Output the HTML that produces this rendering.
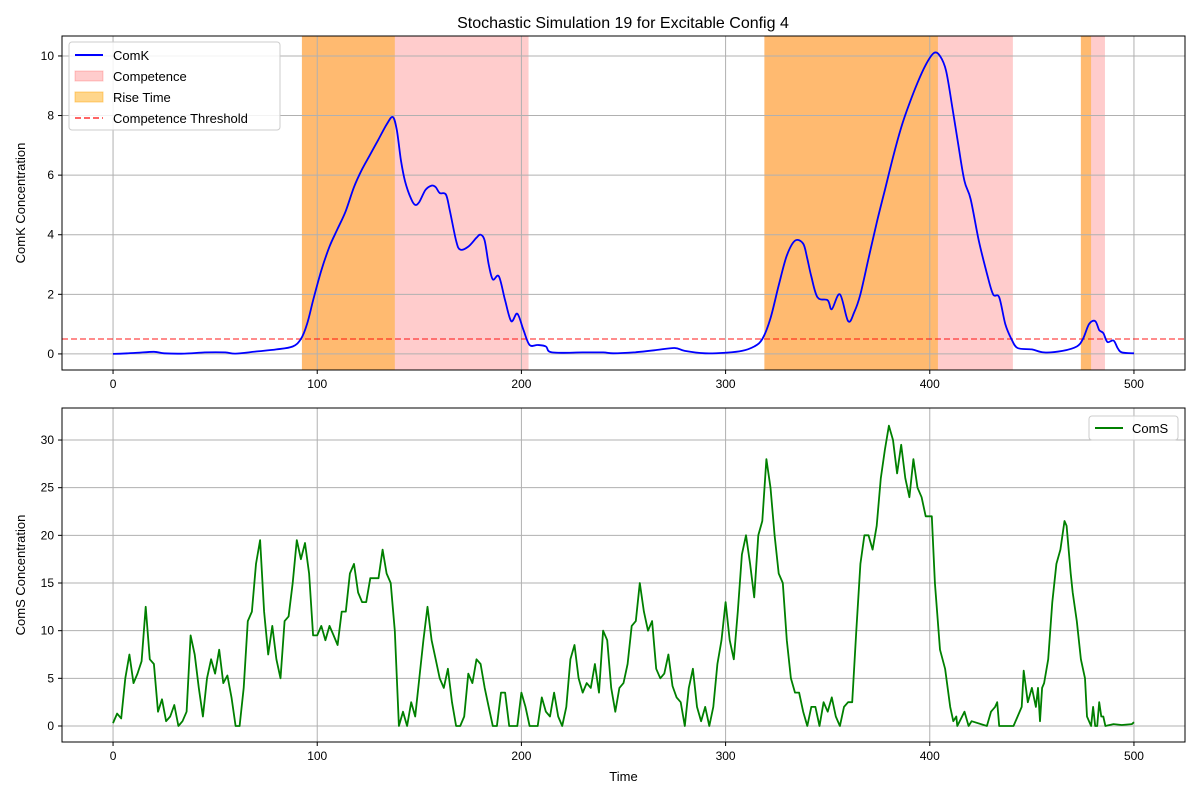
<!DOCTYPE html>
<html><head><meta charset="utf-8"><style>
body{margin:0;background:#fff;}
svg text{font-family:"Liberation Sans","DejaVu Sans",sans-serif;fill:#000;}
</style></head><body>
<svg id="c" width="1200" height="800" xmlns="http://www.w3.org/2000/svg">
<rect width="1200" height="800" fill="#fff"/>
<text x="623" y="28" font-size="16" text-anchor="middle">Stochastic Simulation 19 for Excitable Config 4</text>
</svg>
<script>
const kTimes=[0,10,20,25,35,45,55,60,70,80,88,92,95,98,102,106,110,114,118,122,126,130,134,137,139,141,143,146,148,150,153,156,158,160,163,165,168,170,174,178,180,182,184,186,189,192,195,198,201,204,208,212,215,230,240,245,255,265,275,280,290,300,308,314,318,322,326,330,334,338,340,342,345,350,352,356,360,363,366,370,374,378,382,386,390,394,398,402,405,408,411,414,417,420,424,428,431,434,437,440,443,450,456,465,472,475,478,481,483,485,487,490,492,494,500];
const kValues=[0,0.03,0.07,0.02,0.01,0.05,0.05,0.01,0.08,0.15,0.25,0.5,1,1.8,2.8,3.6,4.2,4.8,5.6,6.2,6.7,7.2,7.7,7.95,7.5,6.5,5.8,5.2,5.0,5.1,5.5,5.65,5.6,5.4,5.35,4.8,3.8,3.5,3.6,3.9,4.0,3.8,3.0,2.5,2.6,1.8,1.1,1.35,0.8,0.3,0.3,0.25,0.05,0.05,0.05,0.02,0.05,0.12,0.2,0.1,0.02,0.04,0.1,0.25,0.5,1.2,2.3,3.3,3.8,3.7,3.2,2.6,1.9,1.8,1.5,2.0,1.1,1.4,2.0,3.2,4.4,5.5,6.6,7.6,8.4,9.1,9.7,10.1,10.0,9.5,8.3,7.0,5.8,5.2,3.8,2.7,2.0,1.9,1.0,0.5,0.2,0.15,0.05,0.1,0.25,0.5,1.0,1.1,0.8,0.7,0.4,0.45,0.2,0.05,0.02];
const sTimes=[0,2,4,6,8,10,12,14,16,18,20,22,24,26,28,30,32,34,36,38,40,42,44,46,48,50,52,54,56,58,60,62,64,66,68,70,72,74,76,78,80,82,84,86,88,90,92,94,96,98,100,102,104,106,108,110,112,114,116,118,120,122,124,126,128,130,132,134,136,138,140,142,144,146,148,150,152,154,156,158,160,162,164,166,168,170,172,174,176,178,180,182,184,186,188,190,192,194,196,198,200,202,204,206,208,210,212,214,216,218,220,222,224,226,228,230,232,234,236,238,240,242,244,246,248,250,252,254,256,258,260,262,264,266,268,270,272,274,276,278,280,282,284,286,288,290,292,294,296,298,300,302,304,306,308,310,312,314,316,318,320,322,324,326,328,330,332,334,336,338,340,342,344,346,348,350,352,354,356,358,360,362,364,366,368,370,372,374,376,378,380,382,384,386,388,390,392,394,396,398,400,401,402.5,405,407.5,410,411.5,413,413.5,417,419,420.5,428,430,432,433,434,441,443,445,446,448,450,452,453,454,455,456,458,460,462,464,466,467,469,470,472,474,476,477,478,479,480,481,482,483,484,485,486,490,494,499,500];
const sValues=[0.3,1.3,0.8,5,7.5,4.5,5.5,6.8,12.5,7,6.5,1.5,2.8,0.5,1,2.2,0,0.5,1.5,9.5,7.5,4,1,5,7,5.5,8,4.5,5.3,3,0,0,4,11,12,17,19.5,12,7.5,10.5,7,5,11,11.5,15,19.5,17.5,19.2,16,9.5,9.5,10.5,9,10.5,9.5,8.5,12,12,16,17,14,13,13,15.5,15.5,15.5,18.5,16,15,10,0,1.5,0,2.5,1,5,9,12.5,9,7,5,4,6,2.5,0,0,1,5.5,4.5,7,6.5,4,2,0,0,3.5,3.5,0,0,0,3.5,2,0,0,0,3,1.5,1,3.5,1,0,2,7,8.5,5,3.5,4.5,4,6.5,3.5,10,9,4,1.5,4,4.5,6.5,10.5,11,15,12,10,11,6,5,5.5,7.5,4.2,3,2.5,0,4,6,2,0.5,2,0,2,6.5,9,13,9,7,12,18,20,17,13.5,20,21.5,28,25,20,16,15,9,5,3.5,3.5,1.5,0,2,2,0,2.5,1.5,3,1,0,2,2.5,2.5,10,17,20,20,18.5,21,26,29,31.5,30,26.5,29.5,26,24,28,25,24,22,22,22,15,8,6,2,0.5,1,0,1.5,0,0.5,0,1.5,2,2.5,0,0,1,2,5.8,2.5,4,2,4,0.5,4,4.5,7,13,17,18.5,21.5,21,16,14,11,7,5,1,0.5,0,2,0,0,2.5,1,1,0,0.2,0.1,0.2,0.4];
const riseStart=[92.5,319,474];const riseEnd=[138,404,479];
const compStart=[92.5,319,474];const compEnd=[203.5,440.7,485.8];
const xTicks=[0,100,200,300,400,500];
const kTicks=[0,2,4,6,8,10];
const sTicks=[0,5,10,15,20,25,30];
const threshold=0.5;

const NS="http://www.w3.org/2000/svg";
const svg=document.getElementById('c');
const L=62,R=1185;
const xs=t=>L+(t+25)/550*(R-L);
const T1=36,B1=370,T2=408,B2=742;
const yk=v=>B1-(v+0.54)/(10.67+0.54)*(B1-T1);
const ysS=v=>B2-(v+1.68)/(33.36+1.68)*(B2-T2);
function mk(tag,at,parent){const e=document.createElementNS(NS,tag);for(const k in at)e.setAttribute(k,at[k]);(parent||svg).appendChild(e);return e;}
function smooth(pts){let d='M'+pts[0][0].toFixed(1)+','+pts[0][1].toFixed(1);
  for(let i=0;i<pts.length-1;i++){const p0=pts[Math.max(0,i-1)],p1=pts[i],p2=pts[i+1],p3=pts[Math.min(pts.length-1,i+2)];
    const c1=[p1[0]+(p2[0]-p0[0])/6,p1[1]+(p2[1]-p0[1])/6],c2=[p2[0]-(p3[0]-p1[0])/6,p2[1]-(p3[1]-p1[1])/6];
    d+='C'+c1[0].toFixed(1)+','+c1[1].toFixed(1)+' '+c2[0].toFixed(1)+','+c2[1].toFixed(1)+' '+p2[0].toFixed(1)+','+p2[1].toFixed(1);}
  return d;}

const g1=mk('g',{});


compStart.forEach((s,i)=>{const r=mk('rect',{x:xs(s),y:T1,width:xs(compEnd[i])-xs(s),height:B1-T1,fill:'#ff0000','fill-opacity':0.2},g1);

});
riseStart.forEach((s,i)=>{const r=mk('rect',{x:xs(s),y:T1,width:xs(riseEnd[i])-xs(s),height:B1-T1,fill:'#ffa500','fill-opacity':0.45},g1);

});
const g2=mk('g',{});



function axes(g,T,B,yf,ticks,label,xlabel){
  xTicks.forEach(t=>{mk('line',{x1:xs(t),x2:xs(t),y1:T,y2:B,stroke:'#b0b0b0','stroke-width':1},g);
    mk('line',{x1:xs(t),x2:xs(t),y1:B,y2:B+4,stroke:'#000'},g);
    const tx=mk('text',{x:xs(t),y:B+18,'font-size':12,'text-anchor':'middle'},g);tx.textContent=t;
    
    });
  ticks.forEach(v=>{mk('line',{x1:L,x2:R,y1:yf(v),y2:yf(v),stroke:'#b0b0b0','stroke-width':1},g);
    mk('line',{x1:L-4,x2:L,y1:yf(v),y2:yf(v),stroke:'#000'},g);
    const tx=mk('text',{x:L-8,y:yf(v)+4,'font-size':12,'text-anchor':'end'},g);tx.textContent=v;
    
    });
  const yl=mk('text',{x:0,y:0,'font-size':13,'text-anchor':'middle',transform:`translate(25,${(T+B)/2}) rotate(-90)`},g);yl.textContent=label;
  
  
  if(xlabel){const xl=mk('text',{x:(L+R)/2,y:B+39,'font-size':13,'text-anchor':'middle'},g);xl.textContent=xlabel;
    
    }
}
axes(g1,T1,B1,yk,kTicks,'ComK Concentration');
axes(g2,T2,B2,ysS,sTicks,'ComS Concentration','Time');
const th=mk('line',{x1:L,x2:R,y1:yk(threshold),y2:yk(threshold),stroke:'#ff0000','stroke-opacity':0.6,'stroke-width':1.5,'stroke-dasharray':'6,3'},g1);


const pk=mk('path',{d:smooth(kTimes.map((t,i)=>[xs(t),yk(kValues[i])])),fill:'none',stroke:'#0000ff','stroke-width':1.8,'stroke-linejoin':'round'},g1);


const ps=mk('path',{d:sTimes.map((t,i)=>(i?'L':'M')+xs(t).toFixed(1)+','+ysS(sValues[i]).toFixed(1)).join(''),fill:'none',stroke:'#008000','stroke-width':1.8,'stroke-linejoin':'round'},g2);


mk('rect',{x:L,y:T1,width:R-L,height:B1-T1,fill:'none',stroke:'#000','stroke-width':1},g1);
mk('rect',{x:L,y:T2,width:R-L,height:B2-T2,fill:'none',stroke:'#000','stroke-width':1},g2);
const lg=mk('g',{},svg);


mk('rect',{x:69,y:42,width:211,height:88,rx:3,fill:'#fff','fill-opacity':0.85,stroke:'#ccc'},lg);
const items=[['line','#0000ff','ComK'],['rect','rgba(255,0,0,0.2)','Competence'],['rect','rgba(255,165,0,0.45)','Rise Time'],['dash','#ff6666','Competence Threshold']];
items.forEach((it,i)=>{const y=55+i*21;
  const e=mk('g',{},lg);
  
  
  if(it[0]==='rect')mk('rect',{x:75,y:y-5,width:28,height:10,fill:it[1],stroke:it[1]},e);
  else mk('line',{x1:75,x2:103,y1:y,y2:y,stroke:it[1],'stroke-width':2,'stroke-dasharray':it[0]==='dash'?'6,3':'none'},e);
  const t=mk('text',{x:113,y:y+5,'font-size':13},e);t.textContent=it[2];});
const lg2=mk('g',{},svg);


mk('rect',{x:1089,y:416,width:89,height:24,rx:3,fill:'#fff','fill-opacity':0.85,stroke:'#ccc'},lg2);
mk('line',{x1:1095,x2:1123,y1:428,y2:428,stroke:'#008000','stroke-width':2},lg2);
const t2=mk('text',{x:1132,y:433,'font-size':13},lg2);t2.textContent='ComS';
</script>
</body></html>
